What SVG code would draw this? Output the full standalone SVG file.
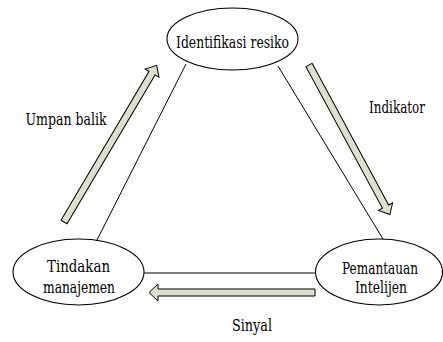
<svg xmlns="http://www.w3.org/2000/svg" width="443" height="342" viewBox="0 0 443 342">
<style>
.node{fill:#ffffff;stroke:#000000;stroke-width:1.1}
.conn{stroke:#000000;stroke-width:1;fill:none}
.arrow{fill:#dde0cc;stroke:#000000;stroke-width:1;stroke-linejoin:miter}
.t{font-family:'DejaVu Serif','Liberation Serif','Noto Serif',serif;font-size:16px;fill:#000000;text-anchor:middle}
</style>
<rect width="443" height="342" fill="#ffffff"/>
<g id="connectors">
<line class="conn" x1="186" y1="64" x2="97" y2="240"/>
<line class="conn" x1="278" y1="66" x2="383" y2="239"/>
<line class="conn" x1="144" y1="273" x2="315" y2="273"/>
<polygon class="arrow" transform="translate(64,222) rotate(-59.4)" points="0,-3.5 173,-3.5 173,-8 182,0 173,8 173,3.5 0,3.5"/>
<polygon class="arrow" transform="translate(309,65) rotate(61.6)" points="0,-3.5 161,-3.5 161,-8 170,0 161,8 161,3.5 0,3.5"/>
<polygon class="arrow" transform="translate(315,292.5) rotate(180)" points="0,-3.5 157,-3.5 157,-8.5 166,0 157,8.5 157,3.5 0,3.5"/>
</g>
<g id="label-umpan">
<text class="t" x="66" y="125" textLength="81" lengthAdjust="spacingAndGlyphs">Umpan balik</text>
</g>
<g id="label-indikator">
<text class="t" x="397" y="113" textLength="56" lengthAdjust="spacingAndGlyphs">Indikator</text>
</g>
<g id="label-sinyal">
<text class="t" x="252" y="331" textLength="40" lengthAdjust="spacingAndGlyphs">Sinyal</text>
</g>
<g id="node-identifikasi">
<ellipse class="node" cx="232.5" cy="39" rx="65.5" ry="31"/>
<text class="t" x="232.5" y="48" textLength="113" lengthAdjust="spacingAndGlyphs">Identifikasi resiko</text>
</g>
<g id="node-tindakan">
<ellipse class="node" cx="78.5" cy="272" rx="65.5" ry="33"/>
<text class="t" x="78.5" y="272" textLength="63" lengthAdjust="spacingAndGlyphs">Tindakan</text>
<text class="t" x="79" y="293" textLength="72" lengthAdjust="spacingAndGlyphs">manajemen</text>
</g>
<g id="node-pemantauan">
<ellipse class="node" cx="379" cy="272" rx="63.5" ry="33"/>
<text class="t" x="380" y="274" textLength="76" lengthAdjust="spacingAndGlyphs">Pemantauan</text>
<text class="t" x="381" y="293" textLength="52" lengthAdjust="spacingAndGlyphs">Intelijen</text>
</g>
</svg>
